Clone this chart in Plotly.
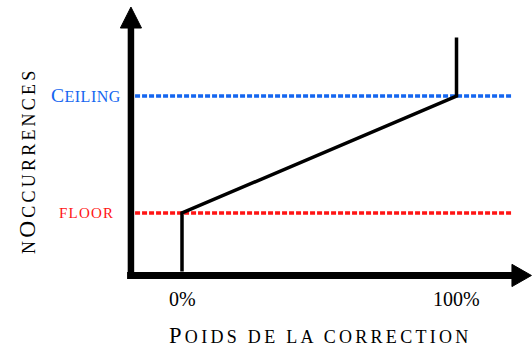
import plotly.graph_objects as go

# ---- data ----
weight_pct = [0, 0, 100, 100]          # Poids de la correction (%)
occurrences = [0, 1, 3, 4]             # nOccurrences (schematic units)
floor_level = 1
ceiling_level = 3
tick_vals = [0, 100]
tick_text = ["0%", "100%"]

# ---- styling ----
FONT = "Liberation Serif"
BLUE = "#1466f0"
RED = "#ff1414"
W, H = 532, 348

x_range = [-66.3, 127.5]
y_range = [-1.308, 4.641]

fig = go.Figure()

# floor / ceiling dashed lines
line_x = [-17.1, 120.6]
fig.add_trace(go.Scatter(x=line_x, y=[ceiling_level] * 2, mode="lines",
                         line=dict(color=BLUE, width=3.5, dash="5px,2px"),
                         hoverinfo="skip", showlegend=False))
fig.add_trace(go.Scatter(x=line_x, y=[floor_level] * 2, mode="lines",
                         line=dict(color=RED, width=3.5, dash="5px,2px"),
                         hoverinfo="skip", showlegend=False))
# main curve
fig.add_trace(go.Scatter(x=weight_pct, y=occurrences, mode="lines",
                         line=dict(color="black", width=3.5),
                         hoverinfo="skip", showlegend=False))

# axes drawn as thick arrows
ax_x = -18.6     # y-axis position (data x)
ax_y = -0.068    # x-axis position (data y)
shapes = [
    dict(type="line", xref="x", yref="y", x0=-20.0, x1=121.0, y0=ax_y, y1=ax_y,
         line=dict(color="black", width=7)),
    dict(type="line", xref="x", yref="y", x0=ax_x, x1=ax_x, y0=-0.13, y1=4.17,
         line=dict(color="black", width=6.5)),
    dict(type="path", xref="x", yref="y",
         path=f"M {120.2},{ax_y + 0.19} L {127.3},{ax_y} L {120.2},{ax_y - 0.19} Z",
         fillcolor="black", line=dict(color="black", width=1)),
    dict(type="path", xref="x", yref="y",
         path=f"M {ax_x - 3.85},{4.162} L {ax_x},{4.52} L {ax_x + 3.85},{4.162} Z",
         fillcolor="black", line=dict(color="black", width=1)),
]


def sc(big, small, bsize, ssize, sp):
    return (f"<span style='font-size:{bsize}px;letter-spacing:{sp}px'>{big}</span>"
            f"<span style='font-size:{ssize}px;letter-spacing:{sp}px'>{small}</span>")


annotations = [
    dict(x=-21.4, y=ceiling_level, xref="x", yref="y", xanchor="right", yanchor="middle",
         text=sc("C", "EILING", 19.5, 16, 0.5), showarrow=False,
         font=dict(family=FONT, color=BLUE, size=19.5)),
    dict(x=-24.0, y=floor_level, xref="x", yref="y", xanchor="right", yanchor="middle",
         text="<span style='letter-spacing:1.2px'>FLOOR</span>", showarrow=False,
         font=dict(family=FONT, color=RED, size=15)),
    dict(x=320 / W, y=1 - 335 / H, xref="paper", yref="paper", xanchor="center", yanchor="middle",
         text=sc("P", "OIDS DE LA CORRECTION", 22.5, 18, 3.3), showarrow=False,
         font=dict(family=FONT, color="black", size=22.5)),
    dict(x=26.5 / W, y=1 - 161.5 / H, xref="paper", yref="paper", xanchor="center", yanchor="middle",
         text="<span style='font-size:18px;letter-spacing:3.2px'>N</span>" + sc("O", "CCURRENCES", 23.5, 18, 3.2),
         textangle=-90, showarrow=False,
         font=dict(family=FONT, color="black", size=23.5)),
]
for v, t in zip(tick_vals, tick_text):
    annotations.append(dict(x=v, y=-0.47, xref="x", yref="y", xanchor="center", yanchor="middle",
                            text=t, showarrow=False,
                            font=dict(family=FONT, color="black", size=20)))

fig.update_layout(
    width=W, height=H,
    margin=dict(l=0, r=0, t=0, b=0),
    paper_bgcolor="white", plot_bgcolor="white",
    xaxis=dict(range=x_range, visible=False, fixedrange=True),
    yaxis=dict(range=y_range, visible=False, fixedrange=True),
    shapes=shapes, annotations=annotations,
)

fig.write_html("out.html", config={"displayModeBar": False},
               post_script="document.body.style.margin='0';document.body.style.overflow='hidden';")
